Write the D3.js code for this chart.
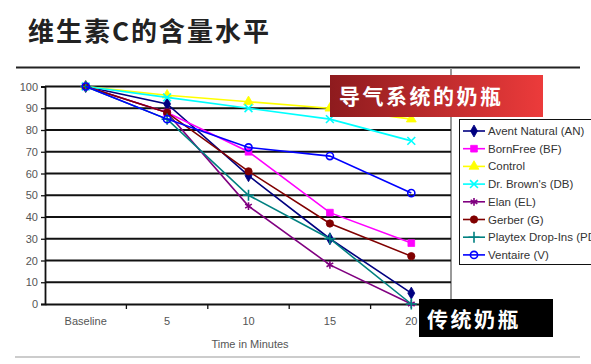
<!DOCTYPE html>
<html>
<head>
<meta charset="utf-8">
<script src="https://cdn.jsdelivr.net/npm/d3@7"></script>
<style>
  body { margin: 0; background: #fff; }
  svg { display: block; }
</style>
</head>
<body>
<div id="root"></div>
<script>
var categories = ["Baseline", "5", "10", "15", "20"];
var yTicks = [0, 10, 20, 30, 40, 50, 60, 70, 80, 90, 100];

var seriesNames = ["Avent Natural (AN)", "BornFree (BF)", "Control", "Dr. Brown's (DB)",
    "Elan (EL)", "Gerber (G)", "Playtex Drop-Ins (PD)", "Ventaire (V)"];
var aventVals = [100, 92, 59, 30, 5];
var bornFreeVals = [100, 88, 70, 42, 28];
var controlVals = [100, 96, 93, 90, 85];
var drBrownVals = [100, 95, 90, 85, 75];
var elanVals = [100, 88, 45, 18, 0];
var gerberVals = [100, 88, 61, 37, 22];
var playtexVals = [100, 85, 50, 30, 0];
var ventaireVals = [100, 85, 72, 68, 51];

var series = [
    { name: seriesNames[0], values: aventVals, color: "#000080", sym: d3.symbolDiamond, fill: true },
    { name: seriesNames[1], values: bornFreeVals, color: "#ff00ff", sym: d3.symbolSquare, fill: true },
    { name: seriesNames[2], values: controlVals, color: "#ffff00", sym: d3.symbolTriangle, fill: true },
    { name: seriesNames[3], values: drBrownVals, color: "#00ffff", sym: d3.symbolTimes, fill: false },
    { name: seriesNames[4], values: elanVals, color: "#800080", sym: d3.symbolAsterisk, fill: false },
    { name: seriesNames[5], values: gerberVals, color: "#800000", sym: d3.symbolCircle, fill: true },
    { name: seriesNames[6], values: playtexVals, color: "#008080", sym: d3.symbolPlus, fill: false },
    { name: seriesNames[7], values: ventaireVals, color: "#0000ff", sym: d3.symbolCircle, fill: "open" }
];

var W = 591, H = 364;
var svg = d3.select("#root").append("svg")
    .attr("width", W)
    .attr("height", H)
    .style("font-family", "'Liberation Sans', Arial, sans-serif");

// title
svg.append("text")
    .attr("x", 28)
    .attr("y", 41)
    .attr("font-family", "'Noto Sans CJK SC', sans-serif")
    .attr("font-weight", "bold")
    .attr("font-size", 26)
    .attr("letter-spacing", 2)
    .attr("fill", "#222")
    .text("维生素C的含量水平");

svg.append("line")
    .attr("x1", 16).attr("x2", 580)
    .attr("y1", 67.5).attr("y2", 67.5)
    .attr("stroke", "#222").attr("stroke-width", 2);

svg.append("line")
    .attr("x1", 15).attr("x2", 580)
    .attr("y1", 357).attr("y2", 357)
    .attr("stroke", "#bbb").attr("stroke-width", 1.5);

var x = d3.scaleBand().domain(categories).range([45, 452]);
var y = d3.scaleLinear().domain([0, 100]).range([304, 86.5]);
var cx = function (d, i) { return x(categories[i]) + x.bandwidth() / 2; };

// right border of plot
svg.append("line")
    .attr("x1", 451).attr("x2", 451)
    .attr("y1", 68).attr("y2", 307)
    .attr("stroke", "#999").attr("stroke-width", 2);

// gridlines
svg.append("g").selectAll("line")
    .data(yTicks.slice(1))
    .enter().append("line")
    .attr("x1", 45).attr("x2", 451)
    .attr("y1", function (d) { return y(d); })
    .attr("y2", function (d) { return y(d); })
    .attr("stroke", "#111").attr("stroke-width", 1.8);

// y axis
var yAxis = svg.append("g")
    .attr("transform", "translate(45,0)")
    .call(d3.axisLeft(y).tickValues(yTicks).tickSize(4).tickPadding(3));
yAxis.select(".domain").attr("stroke", "#111").attr("stroke-width", 1.8);
yAxis.selectAll(".tick line").attr("stroke", "#111").attr("stroke-width", 1.3);
yAxis.selectAll("text").attr("font-size", 11).attr("fill", "#555")
    .attr("font-family", "'Liberation Sans Narrow', 'Liberation Sans', sans-serif");

// x axis
var xAxis = svg.append("g")
    .attr("transform", "translate(0,304)")
    .call(d3.axisBottom(x).tickSize(0).tickPadding(13));
xAxis.select(".domain").attr("stroke", "#111").attr("stroke-width", 1.8);
xAxis.selectAll("text").attr("font-size", 11).attr("fill", "#555")
    .attr("font-family", "'Liberation Sans Narrow', 'Liberation Sans', sans-serif");
svg.append("g").selectAll("line")
    .data(categories.slice(1))
    .enter().append("line")
    .attr("x1", function (d) { return x(d); })
    .attr("x2", function (d) { return x(d); })
    .attr("y1", 304).attr("y2", 309)
    .attr("stroke", "#111").attr("stroke-width", 1.3);

svg.append("text")
    .attr("x", 250).attr("y", 348)
    .attr("text-anchor", "middle")
    .attr("font-size", 11)
    .attr("fill", "#555")
    .attr("font-family", "'Liberation Sans Narrow', 'Liberation Sans', sans-serif")
    .text("Time in Minutes");

// lines
var line = d3.line()
    .x(cx)
    .y(function (d) { return y(d); });

function drawSymbol(g, s, px, py) {
    var size = s.sym === d3.symbolSquare ? 45 : (s.fill === "open" ? 40 : 42);
    var p = g.append("path")
        .attr("transform", "translate(" + px + "," + py + ")")
        .attr("d", d3.symbol().type(s.sym).size(size)());
    if (s.fill === true) {
        p.attr("fill", s.color).attr("stroke", s.color).attr("stroke-width", 0.8);
    } else {
        p.attr("fill", "none").attr("stroke", s.color).attr("stroke-width", 1.6);
    }
}

series.forEach(function (s) {
    var g = svg.append("g");
    g.append("path")
        .datum(s.values)
        .attr("d", line)
        .attr("fill", "none")
        .attr("stroke", s.color)
        .attr("stroke-width", 1.6);
    s.values.forEach(function (v, i) {
        drawSymbol(g, s, cx(v, i), y(v));
    });
});

// legend
var lg = svg.append("g");
lg.append("rect")
    .attr("x", 459.5).attr("y", 119.5)
    .attr("width", 140).attr("height", 145)
    .attr("fill", "#fff").attr("stroke", "#111").attr("stroke-width", 1);
series.forEach(function (s, i) {
    var ly = 131 + i * 17.7;
    lg.append("line")
        .attr("x1", 463).attr("x2", 485)
        .attr("y1", ly).attr("y2", ly)
        .attr("stroke", s.color).attr("stroke-width", 1.6);
    drawSymbol(lg, s, 474, ly);
    lg.append("text")
        .attr("x", 488).attr("y", ly + 4)
        .attr("font-size", 11.5)
        .attr("fill", "#333")
        .attr("font-family", "'Liberation Sans', Arial, sans-serif")
        .text(s.name);
});

// annotation boxes
var grad = svg.append("defs").append("linearGradient")
    .attr("id", "redgrad").attr("x1", "0%").attr("x2", "100%");
grad.append("stop").attr("offset", "0%").attr("stop-color", "#8e1b1e");
grad.append("stop").attr("offset", "100%").attr("stop-color", "#ec3b3b");

svg.append("rect")
    .attr("x", 330).attr("y", 75)
    .attr("width", 213).attr("height", 42)
    .attr("fill", "url(#redgrad)");
svg.append("text")
    .attr("x", 339).attr("y", 104)
    .attr("font-family", "'Noto Sans CJK SC', sans-serif")
    .attr("font-weight", "bold")
    .attr("font-size", 21)
    .attr("letter-spacing", 2.5)
    .attr("fill", "#fff")
    .text("导气系统的奶瓶");

svg.append("rect")
    .attr("x", 419).attr("y", 299)
    .attr("width", 134).attr("height", 38)
    .attr("fill", "#000");
svg.append("text")
    .attr("x", 427).attr("y", 327)
    .attr("font-family", "'Noto Sans CJK SC', sans-serif")
    .attr("font-weight", "bold")
    .attr("font-size", 21)
    .attr("letter-spacing", 2.5)
    .attr("fill", "#fff")
    .text("传统奶瓶");
</script>
</body>
</html>
